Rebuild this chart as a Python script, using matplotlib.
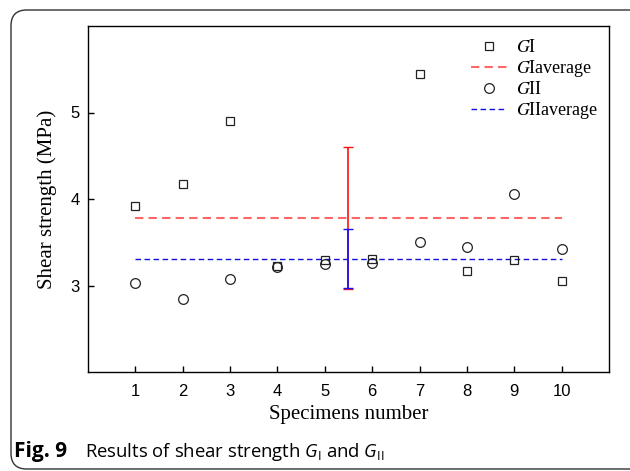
import matplotlib
matplotlib.use("Agg")
import matplotlib.pyplot as plt
from matplotlib.patches import FancyBboxPatch
from matplotlib.font_manager import FontProperties

plt.rcParams['mathtext.fontset'] = 'custom'
plt.rcParams['mathtext.rm'] = 'Open Sans'
plt.rcParams['mathtext.it'] = 'Open Sans:italic'

specimens = [1, 2, 3, 4, 5, 6, 7, 8, 9, 10]
g1 = [3.92, 4.17, 4.90, 3.22, 3.29, 3.31, 5.45, 3.17, 3.30, 3.05]
g2 = [3.03, 2.84, 3.08, 3.21, 3.25, 3.26, 3.50, 3.45, 4.06, 3.42]
g1_avg = 3.78
g2_avg = 3.31
g1_err = 0.82
g2_err = 0.34
err_x = 5.5

fig = plt.figure(figsize=(6.3, 4.71), dpi=100)
ax = fig.add_axes([88/630, 1-372/471, (609-88)/630, (372-26)/471])

ax.plot(specimens, g1, ls='none', marker='s', ms=6.2, mfc='none', mec='#222222', mew=0.9, label='$G$I', zorder=3)
ax.plot([specimens[0], specimens[-1]], [g1_avg, g1_avg], ls=(0, (4, 2.5)), color='#ff6666', lw=1.5, label='$G$Iaverage', zorder=2)
ax.plot(specimens, g2, ls='none', marker='o', ms=7, mfc='none', mec='#222222', mew=0.9, label='$G$II', zorder=3)
ax.plot([specimens[0], specimens[-1]], [g2_avg, g2_avg], ls=(0, (4, 2.5)), color='#1010dd', lw=1.0, label='$G$IIaverage', zorder=2)

ax.errorbar([err_x], [g1_avg], yerr=[g1_err], color='#ff1111', lw=1.2, capsize=3.5, capthick=1.0, zorder=4)
ax.errorbar([err_x], [g2_avg], yerr=[g2_err], color='#1111ff', lw=1.2, capsize=3.5, capthick=1.0, zorder=5)

ax.set_xlim(0, 11)
ax.set_ylim(2, 6)
ax.set_xticks(specimens)
ax.set_yticks([3, 4, 5])
ax.tick_params(direction='in', length=4, width=1, labelsize=12, pad=9)
ax.tick_params(axis='y', pad=6)
for lab in ax.get_xticklabels() + ax.get_yticklabels():
    lab.set_fontfamily('Liberation Sans')
for s in ax.spines.values():
    s.set_linewidth(1.0)

ax.set_xlabel('Specimens number', family='Liberation Serif', fontsize=15, labelpad=4)
ax.set_ylabel('Shear strength (MPa)', family='Liberation Serif', fontsize=15, labelpad=10)

lp = FontProperties(family='Liberation Serif', size=13, math_fontfamily='stix')
leg = ax.legend(loc='upper right', frameon=False, prop=lp, handlelength=2.0, labelspacing=0.1,
                bbox_to_anchor=(1.01, 1.008), handletextpad=0.5)

border = FancyBboxPatch((11/630, 2/471), 700/630, 459/471, boxstyle='round,pad=0,rounding_size=0.025',
                        transform=fig.transFigure, fill=False, ec='#333333', lw=1.0, mutation_aspect=630/471)
fig.patches.append(border)

fig.text(14/630, 1-452/471, 'Fig. 9', family='Open Sans', weight='bold', fontsize=15, va='center', ha='left')
fig.text(85/630, 1-452/471, r'Results of shear strength $G_{\mathrm{I}}$ and $G_{\mathrm{II}}$',
         family='Open Sans', fontsize=13.3, va='center', ha='left', math_fontfamily='custom')

fig.savefig('out.png', dpi=100)
